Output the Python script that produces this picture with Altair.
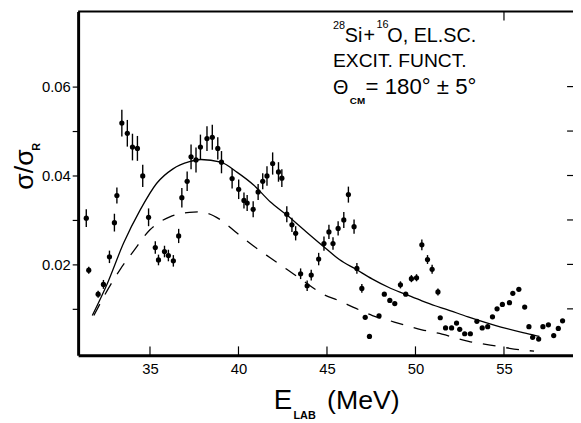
import altair as alt
import pandas as pd

# ---- measured data (E_lab in MeV, sigma/sigma_R, half error bar) ----
E_LAB = [31.40, 31.54, 32.07, 32.37, 32.71, 32.99, 33.13, 33.41, 33.72, 34.01,
         34.29, 34.59, 34.92, 35.30, 35.48, 35.82, 36.04, 36.32, 36.62, 36.80,
         37.10, 37.32, 37.60, 37.85, 38.22, 38.52, 38.83, 39.04, 39.64, 40.01,
         40.31, 40.49, 40.83, 41.11, 41.37, 41.61, 41.93, 42.26, 42.45, 42.73,
         43.02, 43.23, 43.51, 43.88, 44.11, 44.53, 44.83, 45.11, 45.34, 45.63,
         45.95, 46.21, 46.53, 46.69, 46.97, 47.16, 47.40, 47.94, 48.24, 48.55,
         48.83, 49.15, 49.45, 49.77, 50.06, 50.36, 50.68, 50.94, 51.27, 51.40,
         51.70, 52.04, 52.32, 52.50, 52.78, 53.10, 53.47, 53.77, 54.08, 54.35,
         54.61, 54.91, 55.31, 55.50, 55.84, 56.17, 56.41, 56.62, 56.96, 57.20,
         57.51, 57.81, 58.07, 58.31]
SIGMA = [0.0304, 0.0187, 0.0133, 0.0155, 0.0217, 0.0294, 0.0355, 0.0518, 0.0495, 0.0464,
         0.0461, 0.0399, 0.0306, 0.0238, 0.0210, 0.0229, 0.0220, 0.0208, 0.0264, 0.0350,
         0.0387, 0.0442, 0.0435, 0.0464, 0.0483, 0.0486, 0.0461, 0.0430, 0.0393, 0.0369,
         0.0344, 0.0338, 0.0324, 0.0363, 0.0387, 0.0399, 0.0427, 0.0408, 0.0394, 0.0313,
         0.0289, 0.0270, 0.0179, 0.0152, 0.0176, 0.0212, 0.0247, 0.0273, 0.0247, 0.0281,
         0.0300, 0.0357, 0.0285, 0.0191, 0.0146, 0.0081, 0.0038, 0.0084, 0.0133, 0.0119,
         0.0112, 0.0154, 0.0133, 0.0168, 0.0170, 0.0244, 0.0211, 0.0189, 0.0138, 0.0080,
         0.0057, 0.0057, 0.0068, 0.0054, 0.0044, 0.0044, 0.0072, 0.0057, 0.0060, 0.0082,
         0.0100, 0.0110, 0.0114, 0.0135, 0.0144, 0.0104, 0.0060, 0.0036, 0.0032, 0.0060,
         0.0064, 0.0040, 0.0056, 0.0073]
ERR = [0.0020, 0.0008, 0.0008, 0.0010, 0.0014, 0.0020, 0.0018, 0.0030, 0.0030, 0.0030,
       0.0028, 0.0025, 0.0020, 0.0014, 0.0012, 0.0013, 0.0013, 0.0013, 0.0016, 0.0022,
       0.0022, 0.0028, 0.0028, 0.0028, 0.0028, 0.0028, 0.0025, 0.0025, 0.0022, 0.0022,
       0.0018, 0.0018, 0.0018, 0.0018, 0.0018, 0.0022, 0.0025, 0.0022, 0.0020, 0.0018,
       0.0016, 0.0016, 0.0012, 0.0012, 0.0012, 0.0014, 0.0016, 0.0016, 0.0014, 0.0016,
       0.0018, 0.0018, 0.0016, 0.0012, 0.0010, 0.0, 0.0, 0.0, 0.0, 0.0,
       0.0, 0.0008, 0.0, 0.0008, 0.0008, 0.0012, 0.0010, 0.0010, 0.0008, 0.0,
       0.0, 0.0, 0.0, 0.0, 0.0, 0.0, 0.0, 0.0, 0.0, 0.0,
       0.0, 0.0, 0.0, 0.0, 0.0, 0.0, 0.0, 0.0, 0.0, 0.0,
       0.0, 0.0, 0.0, 0.0]

# ---- calculated curves ----
SOLID_E = [31.74, 32.58, 33.51, 34.44, 35.37, 36.30, 37.23, 37.88, 39.00, 39.93,
           40.87, 41.79, 42.73, 43.66, 44.78, 45.70, 46.64, 47.57, 48.50, 49.43,
           50.36, 51.11, 51.66, 52.97, 54.83, 56.69, 57.00]
SOLID_S = [0.0085, 0.0156, 0.0248, 0.0322, 0.0382, 0.0415, 0.0431, 0.0436, 0.0430, 0.0407,
           0.0378, 0.0341, 0.0311, 0.0279, 0.0241, 0.0211, 0.0189, 0.0167, 0.0148, 0.0133,
           0.0118, 0.0107, 0.0100, 0.0082, 0.0059, 0.0041, 0.0038]
DASH_E = [31.83, 32.58, 33.32, 34.07, 35.00, 36.12, 37.23, 37.70, 38.26, 39.00,
          39.93, 40.87, 41.79, 42.73, 43.66, 44.78, 45.70, 46.64, 47.57, 48.50,
          49.43, 50.36, 51.50, 53.00, 54.60, 56.10, 56.70]
DASH_S = [0.0085, 0.0141, 0.0189, 0.0230, 0.0278, 0.0307, 0.0317, 0.0318, 0.0315, 0.0300,
          0.0270, 0.0241, 0.0215, 0.0189, 0.0163, 0.0133, 0.0118, 0.0101, 0.0085, 0.0074,
          0.0063, 0.0053, 0.0043, 0.0027, 0.0016, 0.0007, 0.0005]

X_TICKS = [35, 40, 45, 50, 55]
Y_TICKS = [0.01, 0.02, 0.03, 0.04, 0.05, 0.06]
TOP_TICKS = [55]

FONT = "Liberation Sans"
W, H = 501, 348

pts = pd.DataFrame({"x": E_LAB, "y": SIGMA, "e": ERR})
bars = pts[pts["e"] > 0].copy()
bars["lo"] = bars["y"] - bars["e"]
bars["hi"] = bars["y"] + bars["e"]
solid = pd.DataFrame({"x": SOLID_E, "y": SOLID_S})
dash = pd.DataFrame({"x": DASH_E, "y": DASH_S})

xs = alt.Scale(domain=[30.94, 58.90], nice=False, zero=False)
ys = alt.Scale(domain=[-0.00044, 0.07689], nice=False, zero=False)

x_axis = alt.Axis(values=X_TICKS, ticks=False, tickSize=0, labelPadding=6,
                  labelFontSize=15, domainWidth=3, title=None, grid=False,
                  labelFlush=False)
y_axis = alt.Axis(values=Y_TICKS, format=".2f",
                  labelExpr="(datum.label == '0.02' || datum.label == '0.04' || datum.label == '0.06') ? datum.label : ''",
                  tickSize=6, tickWidth=1.2, labelPadding=2, labelFontSize=15,
                  domainWidth=3, title=None, grid=False)

points = alt.Chart(pts).mark_circle(size=28, color="black", opacity=1).encode(
    x=alt.X("x:Q", scale=xs, axis=x_axis),
    y=alt.Y("y:Q", scale=ys, axis=y_axis),
)
errs = alt.Chart(bars).mark_rule(color="black", strokeWidth=1.4).encode(
    x=alt.X("x:Q", scale=xs),
    y=alt.Y("lo:Q", scale=ys),
    y2="hi:Q",
)
solid_line = alt.Chart(solid).mark_line(color="black", strokeWidth=1.3,
                                         interpolate="monotone").encode(
    x=alt.X("x:Q", scale=xs), y=alt.Y("y:Q", scale=ys))
dash_line = alt.Chart(dash).mark_line(color="black", strokeWidth=1.3,
                                       strokeDash=[13, 11],
                                       interpolate="monotone").encode(
    x=alt.X("x:Q", scale=xs), y=alt.Y("y:Q", scale=ys))

# inward ticks on bottom, top and right sides
bt = alt.Chart(pd.DataFrame({"x": X_TICKS})).mark_rule(color="black", strokeWidth=1.2).encode(
    x=alt.X("x:Q", scale=xs), y=alt.value(H), y2=alt.value(H - 9))
tt = alt.Chart(pd.DataFrame({"x": TOP_TICKS})).mark_rule(color="black", strokeWidth=1.2).encode(
    x=alt.X("x:Q", scale=xs), y=alt.value(0), y2=alt.value(9))
rt = alt.Chart(pd.DataFrame({"y": Y_TICKS})).mark_rule(color="black", strokeWidth=1.2).encode(
    y=alt.Y("y:Q", scale=ys), x=alt.value(W - 6), x2=alt.value(W))
top_border = alt.Chart(pd.DataFrame({"a": [0]})).mark_rule(color="black", strokeWidth=2).encode(
    x=alt.value(0), x2=alt.value(W), y=alt.value(0))


def label(txt, x, y, size, weight="normal", angle=0, align="left"):
    return alt.Chart(pd.DataFrame({"t": [txt]})).mark_text(
        font=FONT, fontSize=size, fontWeight=weight, angle=angle, align=align,
        baseline="alphabetic", color="black").encode(
        text="t:N", x=alt.value(x), y=alt.value(y))


texts = [
    # axis titles
    label("σ/σ", -46, 160, 27, angle=270, align="center"),
    label("R", -39, 137, 11, weight="bold", angle=270, align="center"),
    label("E", 198, 402.7, 28),
    label("LAB", 218, 413, 11, weight="bold"),
    label("(MeV)", 252, 402.7, 27),
    # annotation
    label("28", 258, 18, 11),
    label("Si", 270, 30.5, 20),
    label("+", 289, 30.5, 20),
    label("16", 302, 17, 11),
    label("O, EL.SC.", 313, 30.5, 20),
    label("EXCIT. FUNCT.", 258, 56, 19.5),
    label("Θ", 258, 84, 20),
    label("CM", 275, 94, 10, weight="bold"),
    label("= 180° ± 5°", 291, 84, 22.5),
]

chart = alt.layer(
    dash_line, solid_line, errs, points, bt, tt, rt, top_border, *texts
).properties(
    width=W, height=H,
    autosize=alt.AutoSizeParams(type="none"),
    padding={"left": 71, "top": 1, "right": 0, "bottom": 66},
).configure_view(stroke=None).configure_axis(
    labelFont=FONT, labelColor="black", domainColor="black", tickColor="black"
)

chart.save("out.html", embed_options={"renderer": "svg", "actions": False})
